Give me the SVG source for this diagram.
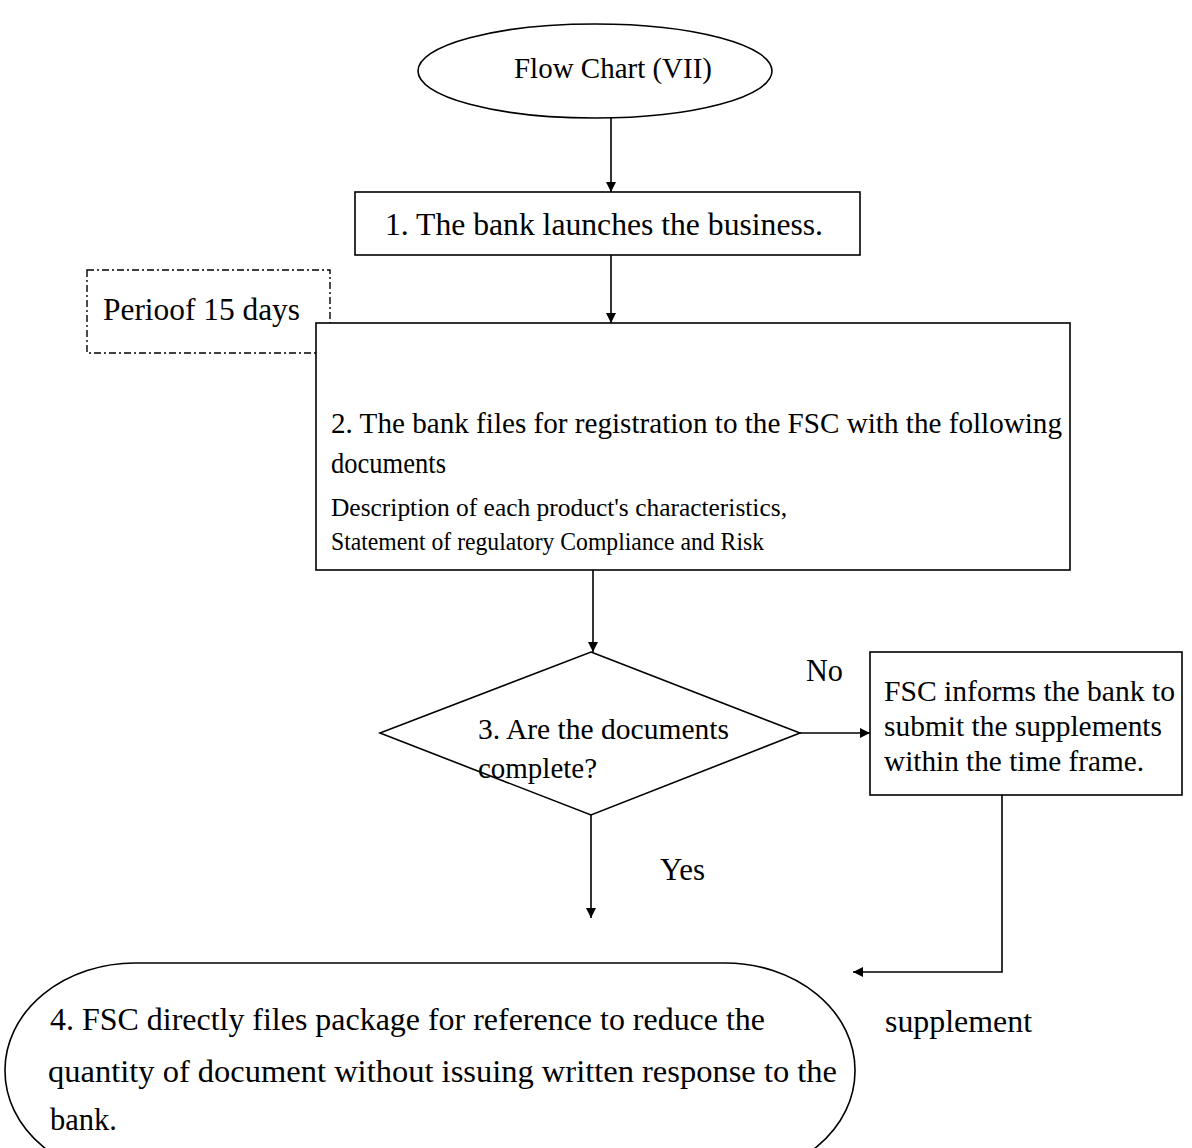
<svg xmlns="http://www.w3.org/2000/svg" width="1192" height="1148" viewBox="0 0 1192 1148">
<style>
.s{fill:#fff;stroke:#000;stroke-width:1.6}
.t{font-family:"Liberation Serif","Times New Roman",serif;fill:#000}
.c{fill:none;stroke:#000;stroke-width:1.6}
</style>
<defs>
<marker id="a" viewBox="0 0 10 10" refX="10" refY="5" markerWidth="10" markerHeight="10" markerUnits="userSpaceOnUse" orient="auto">
<path d="M0,0 L10,5 L0,10 z" fill="#000"/>
</marker>
</defs>
<rect width="1192" height="1148" fill="#fff"/>
<g id="connectors">
<line class="c" x1="611" y1="118" x2="611" y2="192" marker-end="url(#a)"/>
<line class="c" x1="611" y1="255" x2="611" y2="323" marker-end="url(#a)"/>
<line class="c" x1="593" y1="570" x2="593" y2="652" marker-end="url(#a)"/>
<line class="c" x1="800" y1="733" x2="870" y2="733" marker-end="url(#a)"/>
<line class="c" x1="591" y1="815" x2="591" y2="918" marker-end="url(#a)"/>
<polyline class="c" points="1002,795 1002,972 853,972" marker-end="url(#a)"/>
<text class="t" x="806" y="681" font-size="31" textLength="37" lengthAdjust="spacingAndGlyphs">No</text>
<text class="t" x="660" y="880" font-size="31" textLength="45" lengthAdjust="spacingAndGlyphs">Yes</text>
<text class="t" x="885" y="1032" font-size="31" textLength="147" lengthAdjust="spacingAndGlyphs">supplement</text>
</g>
<g id="start">
<ellipse class="s" cx="595" cy="71" rx="177" ry="47"/>
<text class="t" x="514" y="78" font-size="29" textLength="198" lengthAdjust="spacingAndGlyphs">Flow Chart (VII)</text>
</g>
<g id="step1">
<rect class="s" x="355" y="192" width="505" height="63"/>
<text class="t" x="385" y="235" font-size="32" textLength="438" lengthAdjust="spacingAndGlyphs">1. The bank launches the business.</text>
</g>
<g id="period">
<rect x="87" y="270" width="243" height="83" fill="none" stroke="#000" stroke-width="1.4" stroke-dasharray="7,3,2,3"/>
<text class="t" x="103" y="320" font-size="31" textLength="197" lengthAdjust="spacingAndGlyphs">Perioof 15 days</text>
</g>
<g id="step2">
<rect class="s" x="316" y="323" width="754" height="247"/>
<text class="t" x="331" y="433" font-size="29" textLength="731" lengthAdjust="spacingAndGlyphs">2. The bank files for registration to the FSC with the following</text>
<text class="t" x="331" y="473" font-size="29" textLength="115" lengthAdjust="spacingAndGlyphs">documents</text>
<text class="t" x="331" y="516" font-size="25" textLength="456" lengthAdjust="spacingAndGlyphs">Description of each product's characteristics,</text>
<text class="t" x="331" y="550" font-size="25" textLength="433" lengthAdjust="spacingAndGlyphs">Statement of regulatory Compliance and Risk</text>
</g>
<g id="decision">
<polygon class="s" points="591,652 800,733 591,815 380,733"/>
<text class="t" x="478" y="739" font-size="29" textLength="251" lengthAdjust="spacingAndGlyphs">3. Are the documents</text>
<text class="t" x="478" y="778" font-size="29" textLength="119" lengthAdjust="spacingAndGlyphs">complete?</text>
</g>
<g id="supplement-box">
<rect class="s" x="870" y="652" width="312" height="143"/>
<text class="t" x="884" y="701" font-size="29" textLength="291" lengthAdjust="spacingAndGlyphs">FSC informs the bank to</text>
<text class="t" x="884" y="736" font-size="29" textLength="278" lengthAdjust="spacingAndGlyphs">submit the supplements</text>
<text class="t" x="884" y="771" font-size="29" textLength="260" lengthAdjust="spacingAndGlyphs">within the time frame.</text>
</g>
<g id="step4">
<rect class="s" x="5" y="963" width="850" height="215" rx="130" ry="107"/>
<text class="t" x="50" y="1030" font-size="32" textLength="715" lengthAdjust="spacingAndGlyphs">4. FSC directly files package for reference to reduce the</text>
<text class="t" x="48" y="1082" font-size="32" textLength="789" lengthAdjust="spacingAndGlyphs">quantity of document without issuing written response to the</text>
<text class="t" x="50" y="1130" font-size="32" textLength="67" lengthAdjust="spacingAndGlyphs">bank.</text>
</g>
</svg>
